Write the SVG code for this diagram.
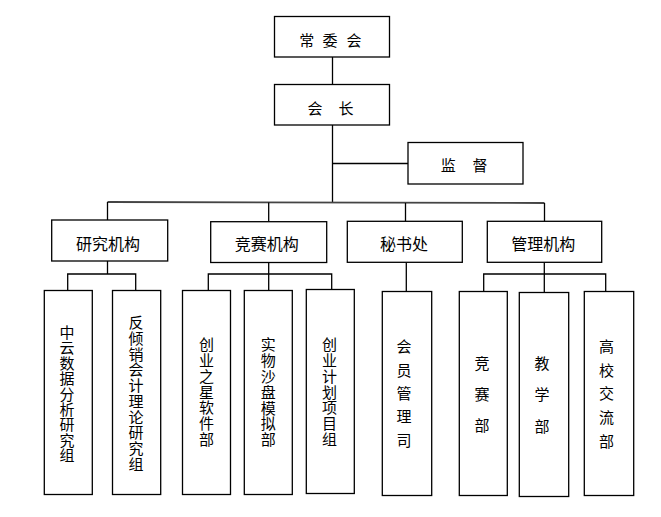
<svg xmlns="http://www.w3.org/2000/svg" width="661" height="517" viewBox="0 0 661 517">
<style>
.box{fill:#fff;stroke:#000;stroke-width:1.3}
.ln{stroke:#000;stroke-width:1.3;fill:none}
.t{font-family:"Noto Sans CJK SC","Noto Sans CJK JP",sans-serif;font-size:15px;fill:#000;text-anchor:middle;dominant-baseline:central}
.m{font-size:16px}
.v{writing-mode:vertical-rl;text-orientation:upright;dominant-baseline:auto}
</style>
<rect width="661" height="517" fill="#fff"/>
<g id="connectors">
<line class="ln" x1="332.5" y1="57" x2="332.5" y2="84.5"/>
<line class="ln" x1="332.5" y1="125" x2="332.5" y2="202"/>
<line class="ln" x1="332.5" y1="163.5" x2="408" y2="163.5"/>
<line x1="107.5" y1="202" x2="544.5" y2="203" stroke="#444" stroke-width="1.8"/>
<line class="ln" x1="107.5" y1="202" x2="107.5" y2="220"/>
<line class="ln" x1="268.7" y1="202.5" x2="268.7" y2="221.5"/>
<line class="ln" x1="405.5" y1="203" x2="405.5" y2="221.5"/>
<line class="ln" x1="544.5" y1="203" x2="544.5" y2="221.5"/>
<polyline class="ln" points="107.5,261 107.5,274"/>
<polyline class="ln" points="67.7,290.5 67.7,274 135.7,274 135.7,290.5"/>
<polyline class="ln" points="268.7,262.5 268.7,290.5"/>
<polyline class="ln" points="208.3,290.5 208.3,274 331.7,274 331.7,289.5"/>
<polyline class="ln" points="406.3,262.5 406.3,291.5"/>
<polyline class="ln" points="544.3,262.5 544.3,292.5"/>
<polyline class="ln" points="483.7,291.5 483.7,274 605.7,274 605.7,291.5"/>
</g>
<g id="n-changwei"><rect class="box" x="274.5" y="16.5" width="115" height="40.5"/>
<text class="t"><tspan x="306.7" y="39.3">常</tspan><tspan x="330" y="39.3">委</tspan><tspan x="354" y="39.3">会</tspan></text></g>
<g id="n-huizhang"><rect class="box" x="274.5" y="84.5" width="115" height="40.5"/>
<text class="t"><tspan x="315" y="107.3">会</tspan><tspan x="346" y="107.3">长</tspan></text></g>
<g id="n-jiandu"><rect class="box" x="408" y="142.5" width="115" height="41.5"/>
<text class="t"><tspan x="448.3" y="164.3">监</tspan><tspan x="480" y="164.3">督</tspan></text></g>
<g id="n-yanjiu"><rect class="box" x="51.7" y="220" width="116" height="41"/>
<text class="t m" x="108" y="242.5">研究机构</text></g>
<g id="n-jingsai"><rect class="box" x="210.7" y="221.7" width="116" height="40.8"/>
<text class="t m" x="266.7" y="243">竞赛机构</text></g>
<g id="n-mishu"><rect class="box" x="347.3" y="221.3" width="115" height="41"/>
<text class="t m" x="404" y="243">秘书处</text></g>
<g id="n-guanli"><rect class="box" x="487.3" y="221.3" width="114.4" height="41"/>
<text class="t m" x="543.3" y="243">管理机构</text></g>
<g id="n-c1"><rect class="box" x="44.3" y="290.5" width="48" height="204"/>
<text class="t v" x="67" y="394.2" letter-spacing="0.4">中云数据分析研究组</text></g>
<g id="n-c2"><rect class="box" x="112.5" y="290.5" width="48.2" height="204"/>
<text class="t v" x="136" y="393.7" letter-spacing="0.75">反倾销会计理论研究组</text></g>
<g id="n-c3"><rect class="box" x="182.5" y="290.5" width="48" height="204"/>
<text class="t v" x="206.5" y="392.3" letter-spacing="0.8">创业之星软件部</text></g>
<g id="n-c4"><rect class="box" x="244.3" y="290.5" width="48" height="204"/>
<text class="t v" x="268.3" y="392.5" letter-spacing="0.8">实物沙盘模拟部</text></g>
<g id="n-c5"><rect class="box" x="306.3" y="289.5" width="48" height="204"/>
<text class="t v" x="329.5" y="392.3" letter-spacing="0.8">创业计划项目组</text></g>
<g id="n-c6"><rect class="box" x="382.3" y="291.5" width="49.4" height="204"/>
<text class="t v" x="404" y="397.5" letter-spacing="8.4">会员管理司</text></g>
<g id="n-c7"><rect class="box" x="459.3" y="291.5" width="48" height="204"/>
<text class="t v" x="482" y="402.3" letter-spacing="16.3">竞赛部</text></g>
<g id="n-c8"><rect class="box" x="519.3" y="292.5" width="49.4" height="204"/>
<text class="t v" x="542" y="402.7" letter-spacing="16.3">教学部</text></g>
<g id="n-c9"><rect class="box" x="584.3" y="291.5" width="49.4" height="204"/>
<text class="t v" x="606.5" y="398" letter-spacing="8.7">高校交流部</text></g>
</svg>
